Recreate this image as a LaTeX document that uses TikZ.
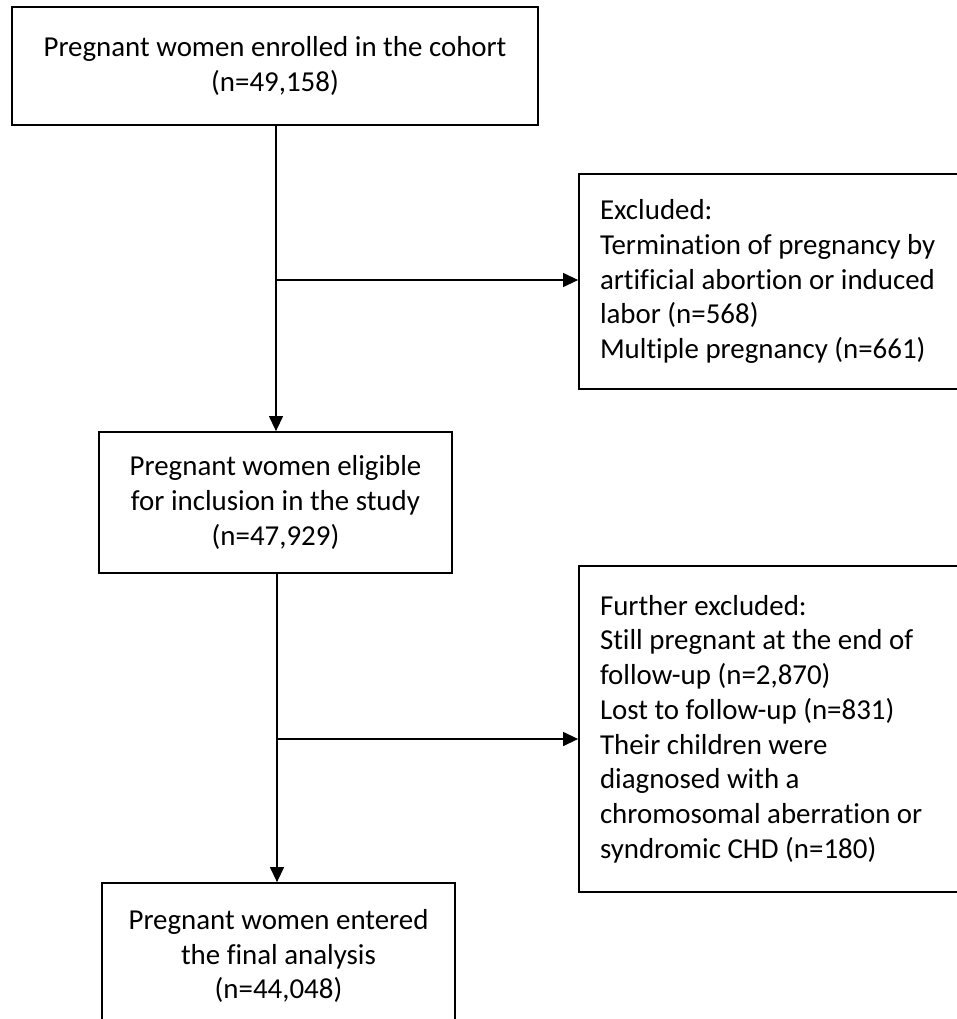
\documentclass[tikz,border=0pt]{standalone}
\usepackage{fontspec}
\setmainfont{Carlito}[Ligatures=CommonOff]
\usetikzlibrary{arrows.meta}
\begin{document}
\begin{tikzpicture}[x=1pt, y=-1pt, font=\fontsize{28.9}{34.7}\selectfont,
          >={Triangle[length=15pt, width=14pt]},
          box/.style={draw, line width=1.8pt, align=flush center, inner sep=0pt},
          side/.style={draw, line width=1.8pt, align=flush left, inner xsep=21pt, inner ysep=0pt, text width=375pt},
          arr/.style={->, line width=1.3pt}]
        \useasboundingbox (0,0) rectangle (956,1019);
        \node[box, minimum width=526pt, minimum height=118pt] (enrol) at (275,66) {Pregnant women enrolled in the cohort\\(n=49,158)};
        \node[side, minimum height=215pt] (excl) at (787.5,281.5) {Excluded:\\Termination of pregnancy by\\artificial abortion or induced\\labor (n=568)\\Multiple pregnancy (n=661)};
        \node[box, minimum width=353pt, minimum height=141pt] (elig) at (275.5,502.5) {Pregnant women eligible\\for inclusion in the study\\(n=47,929)};
        \node[side, minimum height=326pt] (further) at (787.5,729) {Further excluded:\\Still pregnant at the end of\\follow-up (n=2,870)\\Lost to follow-up (n=831)\\Their children were\\diagnosed with a\\chromosomal aberration or\\syndromic CHD (n=180)};
        \node[box, minimum width=353pt, minimum height=146pt] (final) at (278.5,956) {Pregnant women entered\\the final analysis\\(n=44,048)};
        \coordinate (b1) at (276,280);
        \coordinate (b2) at (277,739);
        \draw[arr] (enrol.south -| b1) -- (elig.north -| b1);
        \draw[arr] (b1) -- (b1 -| excl.west);
        \draw[arr] (elig.south -| b2) -- (final.north -| b2);
        \draw[arr] (b2) -- (b2 -| further.west);
      \end{tikzpicture}
\end{document}
